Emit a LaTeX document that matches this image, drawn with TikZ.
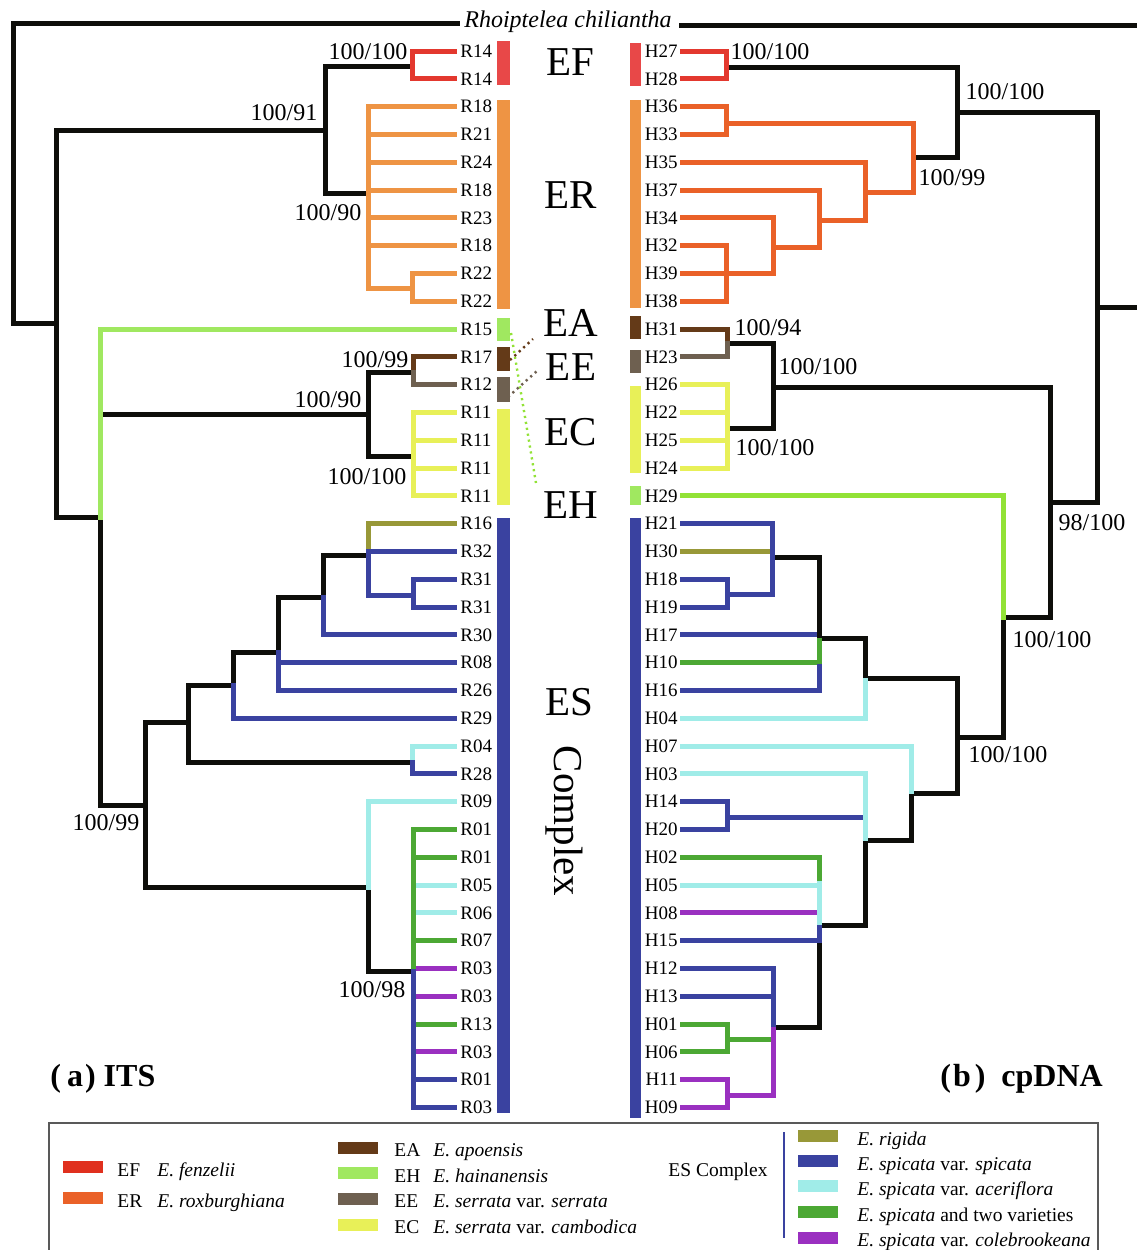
\documentclass[tikz,border=0pt]{standalone}
\usepackage{fontspec}
\setmainfont{Liberation Serif}
\begin{document}
\begin{tikzpicture}[x=0.5pt,y=-0.5pt]
\definecolor{cK}{HTML}{0E0E0A}
\definecolor{cRed}{HTML}{E3382E}
\definecolor{cRedBar}{HTML}{E84848}
\definecolor{cRedL}{HTML}{E0301E}
\definecolor{cOrI}{HTML}{EE9444}
\definecolor{cOrC}{HTML}{EA6128}
\definecolor{cBrown}{HTML}{643A18}
\definecolor{cGrayB}{HTML}{6E6050}
\definecolor{cYel}{HTML}{E8F058}
\definecolor{cLG}{HTML}{A0E860}
\definecolor{cLGt}{HTML}{92E236}
\definecolor{cBlue}{HTML}{3A42A0}
\definecolor{cCyan}{HTML}{A0ECE8}
\definecolor{cGreen}{HTML}{4CA834}
\definecolor{cPurple}{HTML}{9A30C0}
\definecolor{cOlive}{HTML}{989838}
\tikzset{
  br/.style={line width=2.5pt,line cap=rect,line join=miter},
  lf/.style={font=\fontsize{9.5}{10}\selectfont,inner sep=0pt},
  bs/.style={font=\fontsize{12}{13}\selectfont,inner sep=0pt},
  grp/.style={font=\fontsize{20.5}{22}\selectfont,inner sep=0pt},
  lg/.style={font=\fontsize{9.75}{11}\selectfont,inner sep=0pt,anchor=base west},
  sw/.style={inner sep=0pt,minimum width=20pt,minimum height=6pt},
  bar/.style={inner sep=0pt,draw=none},
  dl/.style={line width=1.2pt,dash pattern=on 1.1pt off 1.9pt}
}
\useasboundingbox (0,0) rectangle (1137,1250);

% ---------- leaf labels ----------
\foreach \t [count=\i from 0] in {R14,R14,R18,R21,R24,R18,R23,R18,R22,R22,R15,R17,R12,R11,R11,R11,R11,R16,R32,R31,R31,R30,R08,R26,R29,R04,R28,R09,R01,R01,R05,R06,R07,R03,R03,R13,R03,R01,R03}
  \node[lf,anchor=west] (L\i) at (460,{51+27.8*\i}) {\t};
\foreach \t [count=\i from 0] in {H27,H28,H36,H33,H35,H37,H34,H32,H39,H38,H31,H23,H26,H22,H25,H24,H29,H21,H30,H18,H19,H17,H10,H16,H04,H07,H03,H14,H20,H02,H05,H08,H15,H12,H13,H01,H06,H11,H09}
  \node[lf,anchor=east] (H\i) at (678,{51+27.8*\i}) {\t};

\node[font=\fontsize{12}{13}\selectfont\itshape,inner sep=0pt,anchor=base] (root) at (568,27) {Rhoiptelea chiliantha};

% ---------- ITS tree: leaves ending at black ----------
% (none)
% ---------- cpDNA leaves ending at black verticals ----------
\draw[br,cBlue] (682,634.8) -- (819,634.8);

% ---------- black branches ----------
\draw[br,cK] (457,23) -- (13,23) -- (13,323) -- (56,323);
\draw[br,cK] (325,130) -- (56,130) -- (56,517) -- (100,517);
\draw[br,cK] (412,66) -- (325,66) -- (325,193) -- (368,193);
\draw[br,cK] (100,414) -- (368,414);
\draw[br,cK] (413,372) -- (368,372) -- (368,456) -- (413,456);
\draw[br,cK] (100,517) -- (100,805) -- (145,805);
\draw[br,cK] (188,722) -- (145,722) -- (145,887) -- (368,887) -- (368,971) -- (413,971);
\draw[br,cK] (233,685) -- (188,685) -- (188,762) -- (412,762);
\draw[br,cK] (278,652) -- (233,652) -- (233,685);
\draw[br,cK] (323,597) -- (278,597) -- (278,652);
\draw[br,cK] (368,555) -- (323,555) -- (323,597);

\draw[br,cK] (681,25) -- (1137,25);
\draw[br,cK] (726,67) -- (957,67) -- (957,157) -- (913,157);
\draw[br,cK] (957,112) -- (1097,112) -- (1097,502) -- (1050,502);
\draw[br,cK] (1097,307) -- (1137,307);
\draw[br,cK] (727,343) -- (773,343) -- (773,428) -- (727,428);
\draw[br,cK] (773,387) -- (1050,387) -- (1050,617) -- (1003,617) -- (1003,737) -- (957,737);
\draw[br,cK] (772,557) -- (819,557) -- (819,638) -- (865,638) -- (865,678) -- (957,678) -- (957,793) -- (911,793) -- (911,840) -- (865,840) -- (865,925) -- (819,925);
\draw[br,cK] (819,941) -- (819,1027) -- (773,1027);

% ---------- ITS coloured ----------
\draw[br,cRed] (454,51) -- (412,51) -- (412,78.8) -- (454,78.8);
\foreach \y in {134.4,162.2,190,217.8,245.6} \draw[br,cOrI] (368,\y) -- (454,\y);
\draw[br,cOrI] (454,106.6) -- (368,106.6) -- (368,288) -- (412,288);
\draw[br,cOrI] (454,273.4) -- (412,273.4) -- (412,301.2) -- (454,301.2);
\draw[br,cLG] (454,329) -- (100,329) -- (100,517);
\draw[br,cBrown] (454,356.8) -- (413,356.8) -- (413,372);
\draw[br,cGrayB] (413,372) -- (413,384.6) -- (454,384.6);
\foreach \y in {440.2,468} \draw[br,cYel] (413,\y) -- (454,\y);
\draw[br,cYel] (454,412.4) -- (413,412.4) -- (413,495.8) -- (454,495.8);
\draw[br,cOlive] (454,523.6) -- (368,523.6) -- (368,555);
\draw[br,cBlue] (368,551.4) -- (454,551.4);
\draw[br,cBlue] (368,555) -- (368,595) -- (413,595);
\draw[br,cBlue] (454,579.2) -- (413,579.2) -- (413,607) -- (454,607);
\draw[br,cBlue] (323,597) -- (323,634.8) -- (454,634.8);
\draw[br,cBlue] (278,662.6) -- (454,662.6);
\draw[br,cBlue] (278,652) -- (278,690.4) -- (454,690.4);
\draw[br,cBlue] (233,685) -- (233,718.2) -- (454,718.2);
\draw[br,cCyan] (454,746) -- (412,746) -- (412,762);
\draw[br,cBlue] (412,762) -- (412,773.8) -- (454,773.8);
\draw[br,cCyan] (454,801.6) -- (368,801.6) -- (368,887);
\foreach \y in {857.2,940.6,1024} \draw[br,cGreen] (413,\y) -- (454,\y);
\foreach \y in {885,912.8} \draw[br,cCyan] (413,\y) -- (454,\y);
\foreach \y in {968.4,996.2,1051.8} \draw[br,cPurple] (413,\y) -- (454,\y);
\draw[br,cBlue] (413,1079.6) -- (454,1079.6);
\draw[br,cGreen] (454,829.4) -- (413,829.4) -- (413,969);
\draw[br,cBlue] (413,971) -- (413,1107.4) -- (454,1107.4);

% ---------- cpDNA coloured ----------
\draw[br,cRed] (682,51) -- (726,51) -- (726,78.8) -- (682,78.8);
\draw[br,cOrC] (682,106.6) -- (726,106.6) -- (726,134.4) -- (682,134.4);
\draw[br,cOrC] (726,123) -- (913,123) -- (913,192) -- (865,192);
\draw[br,cOrC] (682,162.2) -- (865,162.2) -- (865,220) -- (819,220);
\draw[br,cOrC] (682,190) -- (819,190) -- (819,247) -- (773,247);
\draw[br,cOrC] (682,217.8) -- (773,217.8) -- (773,273.4) -- (682,273.4);
\draw[br,cOrC] (682,245.6) -- (726,245.6) -- (726,301.2) -- (682,301.2);
\draw[br,cBrown] (682,329) -- (727,329) -- (727,343);
\draw[br,cGrayB] (727,343) -- (727,356.8) -- (682,356.8);
\foreach \y in {412.4,440.2} \draw[br,cYel] (682,\y) -- (727,\y);
\draw[br,cYel] (682,384.6) -- (727,384.6) -- (727,468) -- (682,468);
\draw[br,cLGt] (682,495.8) -- (1003,495.8) -- (1003,617);
\draw[br,cOlive] (682,551.4) -- (772,551.4);
\draw[br,cBlue] (682,523.6) -- (772,523.6) -- (772,594) -- (727,594);
\draw[br,cBlue] (682,579.2) -- (727,579.2) -- (727,607) -- (682,607);
\draw[br,cGreen] (682,662.6) -- (819,662.6);
\draw[br,cGreen] (819,640) -- (819,664);
\draw[br,cBlue] (682,690.4) -- (819,690.4) -- (819,666);
\draw[br,cCyan] (682,718.2) -- (865,718.2) -- (865,680);
\draw[br,cCyan] (682,746) -- (911,746) -- (911,791);
\draw[br,cBlue] (682,801.6) -- (727,801.6) -- (727,829.4) -- (682,829.4);
\draw[br,cBlue] (727,817) -- (865,817);
\draw[br,cCyan] (682,773.8) -- (865,773.8) -- (865,838);
\draw[br,cGreen] (682,857.2) -- (819,857.2) -- (819,883);
\draw[br,cCyan] (682,885) -- (819,885);
\draw[br,cPurple] (682,912.8) -- (819,912.8);
\draw[br,cCyan] (819,883) -- (819,923);
\draw[br,cBlue] (682,940.6) -- (819,940.6) -- (819,927);
\draw[br,cBlue] (682,996.2) -- (773,996.2);
\draw[br,cBlue] (682,968.4) -- (773,968.4) -- (773,1027);
\draw[br,cGreen] (682,1024) -- (727,1024) -- (727,1051.8) -- (682,1051.8);
\draw[br,cGreen] (727,1039) -- (773,1039);
\draw[br,cPurple] (682,1079.6) -- (727,1079.6) -- (727,1107.4) -- (682,1107.4);
\draw[br,cPurple] (727,1095) -- (773,1095) -- (773,1029);

% ---------- colour bars ----------
\fill[cRedBar] (497,41) rectangle (510,85);
\fill[cOrI] (497,100) rectangle (510,309);
\fill[cLG] (497,318) rectangle (510,341);
\fill[cBrown] (497,347) rectangle (510,371);
\fill[cGrayB] (497,377) rectangle (510,402);
\fill[cYel] (497,409) rectangle (510,505);
\fill[cBlue] (497,518) rectangle (510,1113);
\fill[cRedBar] (630,43) rectangle (641,86);
\fill[cOrI] (630,100) rectangle (641,308);
\fill[cBrown] (630,316) rectangle (641,339);
\fill[cGrayB] (630,350) rectangle (641,373);
\fill[cYel] (630,386) rectangle (641,473);
\fill[cLG] (630,486) rectangle (641,505);
\fill[cBlue] (630,518) rectangle (641,1118);

% ---------- dotted links ----------
\draw[dl,cLGt] (511,333) -- (536,483);
\draw[dl,cBrown] (510,360) -- (533,339);
\draw[dl,cGrayB] (508,397) -- (537,371);

% ---------- group labels ----------
\node[grp] (gEF) at (570,62) {EF};
\node[grp] (gER) at (571,195) {ER};
\node[grp] (gEA) at (571,323) {EA};
\node[grp] (gEE) at (571,367) {EE};
\node[grp] (gEC) at (571,432) {EC};
\node[grp] (gEH) at (571,505) {EH};
\node[grp] (gES) at (569,702) {ES};
\node[grp,rotate=-90] (gCx) at (564,821) {Complex};

% ---------- bootstrap values ----------
\node[bs] (b1) at (368,52) {100/100};
\node[bs] (b2) at (284,113) {100/91};
\node[bs] (b3) at (328,213) {100/90};
\node[bs] (b4) at (375,360) {100/99};
\node[bs] (b5) at (328,400) {100/90};
\node[bs] (b6) at (367,477) {100/100};
\node[bs] (b7) at (106,823) {100/99};
\node[bs] (b8) at (372,990) {100/98};
\node[bs] (c1) at (770,52) {100/100};
\node[bs] (c2) at (1005,92) {100/100};
\node[bs] (c3) at (952,178) {100/99};
\node[bs] (c4) at (768,328) {100/94};
\node[bs] (c5) at (818,367) {100/100};
\node[bs] (c6) at (775,448) {100/100};
\node[bs] (c7) at (1092,523) {98/100};
\node[bs] (c8) at (1052,640) {100/100};
\node[bs] (c9) at (1008,755) {100/100};

% ---------- panel titles ----------
\node[font=\fontsize{16}{17}\selectfont\bfseries,inner sep=0pt,anchor=base west] (tA) at (50,1086) {(\kern3pt a\kern1pt)\kern4pt ITS};
\node[font=\fontsize{16}{17}\selectfont\bfseries,inner sep=0pt,anchor=base west] (tB) at (940,1086) {(\kern1pt b\kern2pt)\kern8pt cpDNA};

% ---------- legend ----------
\draw[black!65,line width=0.6pt] (49,1255) -- (49,1123) -- (1098,1123) -- (1098,1255);
\node[sw,fill=cRedL] (sEF) at (83,1167) {};
\node[sw,fill=cOrC] (sER) at (83,1198) {};
\node[lg] (kEF) at (117,1176) {EF};
\node[lg] (nEF) at (157,1176) {\textit{E. fenzelii}};
\node[lg] (kER) at (117,1207) {ER};
\node[lg] (nER) at (157,1207) {\textit{E. roxburghiana}};
\node[sw,fill=cBrown] (sEA) at (358,1147.5) {};
\node[sw,fill=cLG] (sEH) at (358,1173) {};
\node[sw,fill=cGrayB] (sEE) at (358,1198.5) {};
\node[sw,fill=cYel] (sEC) at (358,1224.5) {};
\node[lg] (kEA) at (394,1156.5) {EA};
\node[lg] (kEH) at (394,1182) {EH};
\node[lg] (kEE) at (394,1207.5) {EE};
\node[lg] (kEC) at (394,1233.5) {EC};
\node[lg] (nEA) at (433,1156.5) {\textit{E. apoensis}};
\node[lg] (nEH) at (433,1182) {\textit{E. hainanensis}};
\node[lg] (nEE) at (433,1207.5) {\textit{E. serrata} var. \textit{serrata}};
\node[lg] (nEC) at (433,1233.5) {\textit{E. serrata} var. \textit{cambodica}};
\node[lg] (kES) at (668,1176.5) {ES Complex};
\coordinate (esTop) at (784,1132);
\coordinate (esBot) at (784,1238);
\draw[cBlue,line width=1pt] (esTop) -- (esBot);
\node[sw,fill=cOlive] (s1) at (817.5,1136) {};
\node[sw,fill=cBlue] (s2) at (817.5,1161) {};
\node[sw,fill=cCyan] (s3) at (817.5,1186) {};
\node[sw,fill=cGreen] (s4) at (817.5,1212) {};
\node[sw,fill=cPurple] (s5) at (817.5,1237.5) {};
\node[lg] (n1) at (857,1145) {\textit{E. rigida}};
\node[lg] (n2) at (857,1170) {\textit{E. spicata} var. \textit{spicata}};
\node[lg] (n3) at (857,1195) {\textit{E. spicata} var. \textit{aceriflora}};
\node[lg] (n4) at (857,1221) {\textit{E. spicata} and two varieties};
\node[lg] (n5) at (857,1246.5) {\textit{E. spicata} var. \textit{colebrookeana}};
\end{tikzpicture}
\end{document}
